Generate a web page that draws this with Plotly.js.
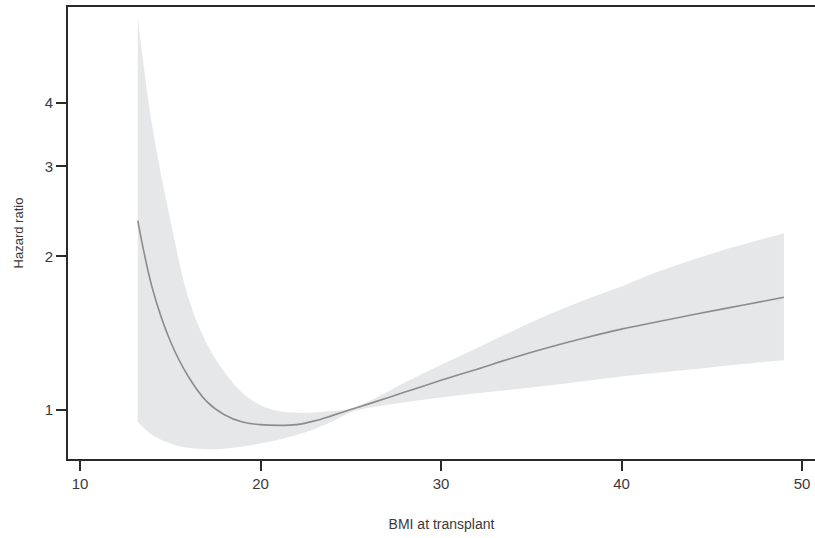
<!DOCTYPE html>
<html>
<head>
<meta charset="utf-8">
<script src="https://cdn.plot.ly/plotly-3.0.1.min.js"></script>
<style>
html,body{margin:0;padding:0;overflow:hidden;background:#fff;}
#chart{width:815px;height:538px;}
</style>
</head>
<body>
<div id="chart"></div>
<script>
// BMI at transplant
var bmi = [13.2, 14, 15, 16, 17, 18, 19, 20, 21, 22, 23, 24, 25, 26, 28, 30, 32, 34, 36, 38, 40, 42, 44, 46, 48, 49];
// Hazard ratio (estimate)
var hazardRatio = [2.35, 1.736, 1.365, 1.163, 1.041, 0.979, 0.947, 0.936, 0.933, 0.936, 0.952, 0.976, 1.002, 1.028, 1.084, 1.143, 1.202, 1.266, 1.327, 1.385, 1.440, 1.489, 1.538, 1.587, 1.637, 1.663];
// Upper confidence bound
var upperCI = [5.86, 3.60, 2.36, 1.66, 1.355, 1.187, 1.080, 1.022, 0.996, 0.988, 0.989, 0.995, 1.007, 1.040, 1.132, 1.226, 1.323, 1.430, 1.540, 1.645, 1.745, 1.865, 1.972, 2.076, 2.171, 2.219];
// Lower confidence bound
var lowerCI = [0.947, 0.893, 0.860, 0.843, 0.838, 0.840, 0.848, 0.860, 0.874, 0.893, 0.918, 0.950, 0.990, 1.010, 1.036, 1.058, 1.078, 1.097, 1.117, 1.140, 1.163, 1.183, 1.202, 1.223, 1.243, 1.252];
var xTicks = [10, 20, 30, 40, 50];
var yTicks = [1, 2, 3, 4];

var traces = [
  {
    x: bmi, y: lowerCI, type: 'scatter', mode: 'lines',
    line: {width: 0, color: 'rgba(0,0,0,0)', shape: 'spline', smoothing: 1},
    hoverinfo: 'skip', showlegend: false
  },
  {
    x: bmi, y: upperCI, type: 'scatter', mode: 'lines',
    fill: 'tonexty', fillcolor: '#e6e7e9',
    line: {width: 0, color: 'rgba(0,0,0,0)', shape: 'spline', smoothing: 1},
    hoverinfo: 'skip', showlegend: false
  },
  {
    x: bmi, y: hazardRatio, type: 'scatter', mode: 'lines',
    line: {color: '#8c8c8c', width: 1.6, shape: 'spline', smoothing: 1},
    showlegend: false
  }
];

var layout = {
  width: 815, height: 538,
  margin: {l: 68, r: 0, t: 7, b: 79},
  paper_bgcolor: '#ffffff', plot_bgcolor: '#ffffff',
  font: {family: 'Liberation Sans, Arial, sans-serif', color: '#3a3a3a', size: 14},
  showlegend: false,
  xaxis: {
    range: [9.335, 50.72],
    tickvals: xTicks, ticktext: xTicks.map(String),
    showgrid: false, zeroline: false,
    showline: true, linecolor: '#2a2a2a', linewidth: 2, mirror: true,
    ticks: 'outside', ticklen: 10, tickwidth: 2, tickcolor: '#2a2a2a',
    tickfont: {size: 15, color: '#3a3a3a'},
    title: {text: 'BMI at transplant', font: {size: 14, color: '#3a3a3a'}, standoff: 28}
  },
  yaxis: {
    type: 'log',
    range: [-0.096, 0.7894],
    tickvals: yTicks, ticktext: yTicks.map(String),
    showgrid: false, zeroline: false,
    showline: true, linecolor: '#2a2a2a', linewidth: 2, mirror: false,
    ticks: 'outside', ticklen: 10, tickwidth: 2, tickcolor: '#2a2a2a',
    tickfont: {size: 15, color: '#3a3a3a'},
    title: {text: 'Hazard ratio', font: {size: 13, color: '#3a3a3a'}, standoff: 18}
  }
};

Plotly.newPlot('chart', traces, layout, {displayModeBar: false, staticPlot: true});
</script>
</body>
</html>
